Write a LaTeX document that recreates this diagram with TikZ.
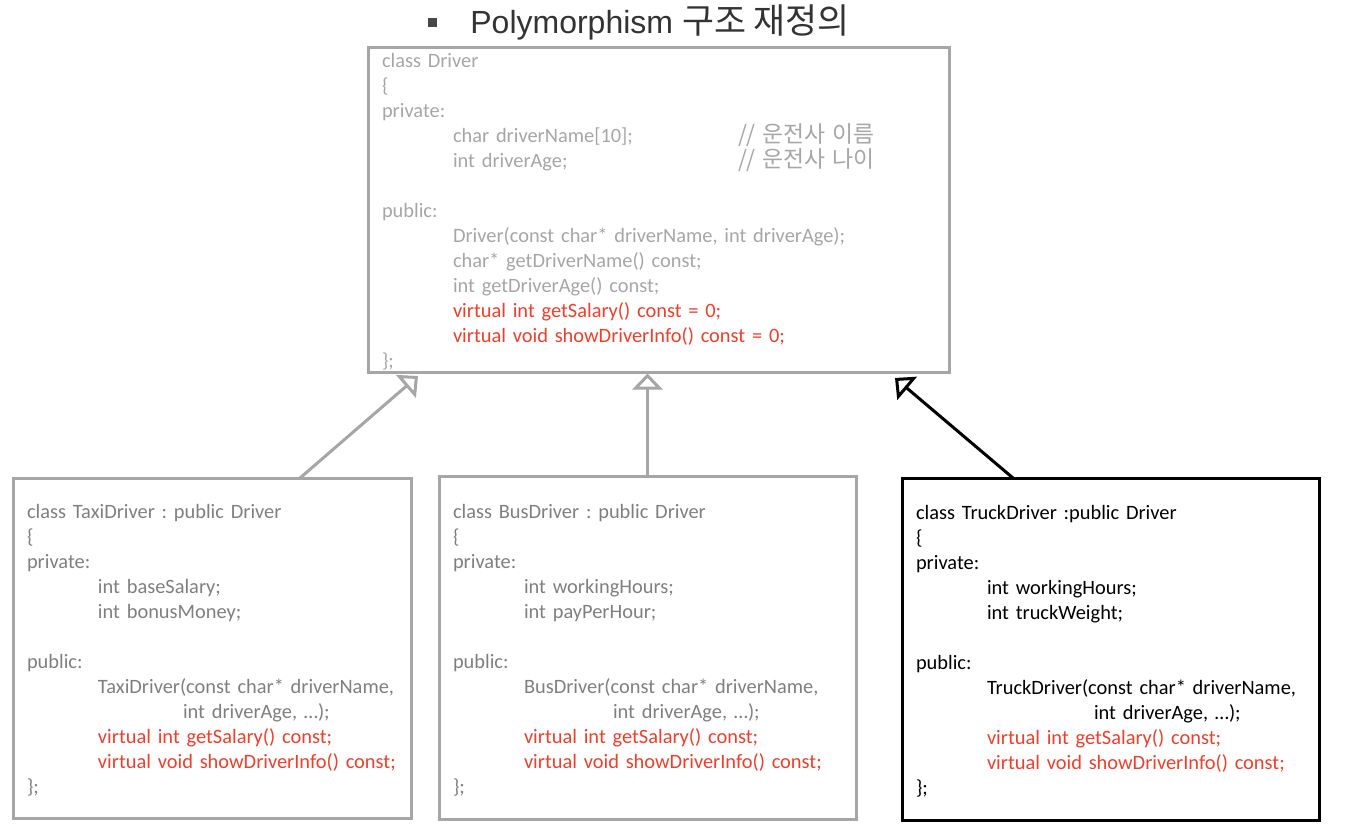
\documentclass[tikz,border=0pt]{standalone}
\usepackage{fontspec}
\setmainfont{Carlito}
\newfontfamily\krfont{Noto Sans CJK KR}
\newfontfamily\titlefont{Liberation Sans}
\usetikzlibrary{arrows.meta}
\frenchspacing

\definecolor{grisclaro}{RGB}{166,166,166}
\definecolor{grisoscuro}{RGB}{127,127,127}
\definecolor{rojo}{RGB}{240,62,42}
\definecolor{tinta}{RGB}{51,51,51}

\newcommand{\sangria}{\hspace*{35.5pt}}
\newcommand{\virt}[1]{\textcolor{rojo}{#1}}
\newcommand{\nota}[1]{\smash{\krfont\fontsize{11.4}{12.5}\selectfont #1}}
\newcommand{\codigo}[1]{\raisebox{-1.5pt}[\height][\depth]{\begin{tabular}{@{}l@{}}#1\end{tabular}}}

\tikzset{
  clase/.style={draw=grisclaro, line width=1.5pt, align=left, inner xsep=7pt, inner ysep=0pt,
    font=\fontsize{10.2}{12.5}\selectfont},
  hereda/.style={draw=grisclaro, line width=1.5pt, -{Triangle[open,length=8pt,width=15pt]}},
}

\begin{document}
\begin{tikzpicture}[x=0.5pt,y=-0.5pt]
    \useasboundingbox (0,0) rectangle (1346,832);

    % titulo
    \node[fill=tinta!90, inner sep=0pt, minimum size=4.5pt] (vineta) at (432.5,22) {};
    \node[anchor=base west, inner sep=0pt, text=tinta, font=\titlefont\fontsize{16}{19}\selectfont]
        (titulo) at (470,33) {Polymorphism {\krfont\fontsize{17.4}{19}\selectfont 구조 재정의}};

    % clase base
    \node[clase, text=grisclaro, text width=276.5pt, minimum height=162.5pt] (driver) at (658.5,209.5) {%
    \codigo{
    class Driver\\
    \{\\
    private:\\
    \sangria\makebox[142.5pt][l]{char driverName[10];}\nota{// 운전사 이름}\\
    \sangria\makebox[142.5pt][l]{int driverAge;}\nota{// 운전사 나이}\\
    \\
    public:\\
    \sangria Driver(const char* driverName, int driverAge);\\
    \sangria char* getDriverName() const;\\
    \sangria int getDriverAge() const;\\
    \sangria\virt{virtual int getSalary() const = 0;}\\
    \sangria\virt{virtual void showDriverInfo() const = 0;}\\
    \};}};

    % clases derivadas
    \node[clase, text=grisoscuro, text width=185pt, minimum height=170pt] (taxi) at (212,648) {%
    \codigo{
    class TaxiDriver : public Driver\\
    \{\\
    private:\\
    \sangria int baseSalary;\\
    \sangria int bonusMoney;\\
    \\
    public:\\
    \sangria TaxiDriver(const char* driverName,\\
    \hspace*{78pt}int driverAge, …);\\
    \sangria\virt{virtual int getSalary() const;}\\
    \sangria\virt{virtual void showDriverInfo() const;}\\
    \};}};

    \node[clase, text=grisoscuro, text width=194.5pt, minimum height=171.5pt] (bus) at (647.5,647.5) {%
    \codigo{
    class BusDriver : public Driver\\
    \{\\
    private:\\
    \sangria int workingHours;\\
    \sangria int payPerHour;\\
    \\
    public:\\
    \sangria BusDriver(const char* driverName,\\
    \hspace*{80pt}int driverAge, …);\\
    \sangria\virt{virtual int getSalary() const;}\\
    \sangria\virt{virtual void showDriverInfo() const;}\\
    \};}};

    \node[clase, draw=black, text=black, text width=194.5pt, minimum height=171pt] (truck) at (1110.5,649) {%
    \codigo{
    class TruckDriver :public Driver\\
    \{\\
    private:\\
    \sangria int workingHours;\\
    \sangria int truckWeight;\\
    \\
    public:\\
    \sangria TruckDriver(const char* driverName,\\
    \hspace*{89pt}int driverAge, …);\\
    \sangria\virt{virtual int getSalary() const;}\\
    \sangria\virt{virtual void showDriverInfo() const;}\\
    \};}};

    % herencia
    \coordinate (pieTaxi) at (300,478);
    \coordinate (puntaTaxi) at (418,376);
    \coordinate (pieTruck) at (1013,478);
    \coordinate (puntaTruck) at (895,378);
    \draw[hereda] (pieTaxi) -- (puntaTaxi);
    \draw[hereda] (bus.north) -- (bus.north |- driver.south);
    \draw[hereda, draw=black] (pieTruck) -- (puntaTruck);

\end{tikzpicture}
\end{document}
